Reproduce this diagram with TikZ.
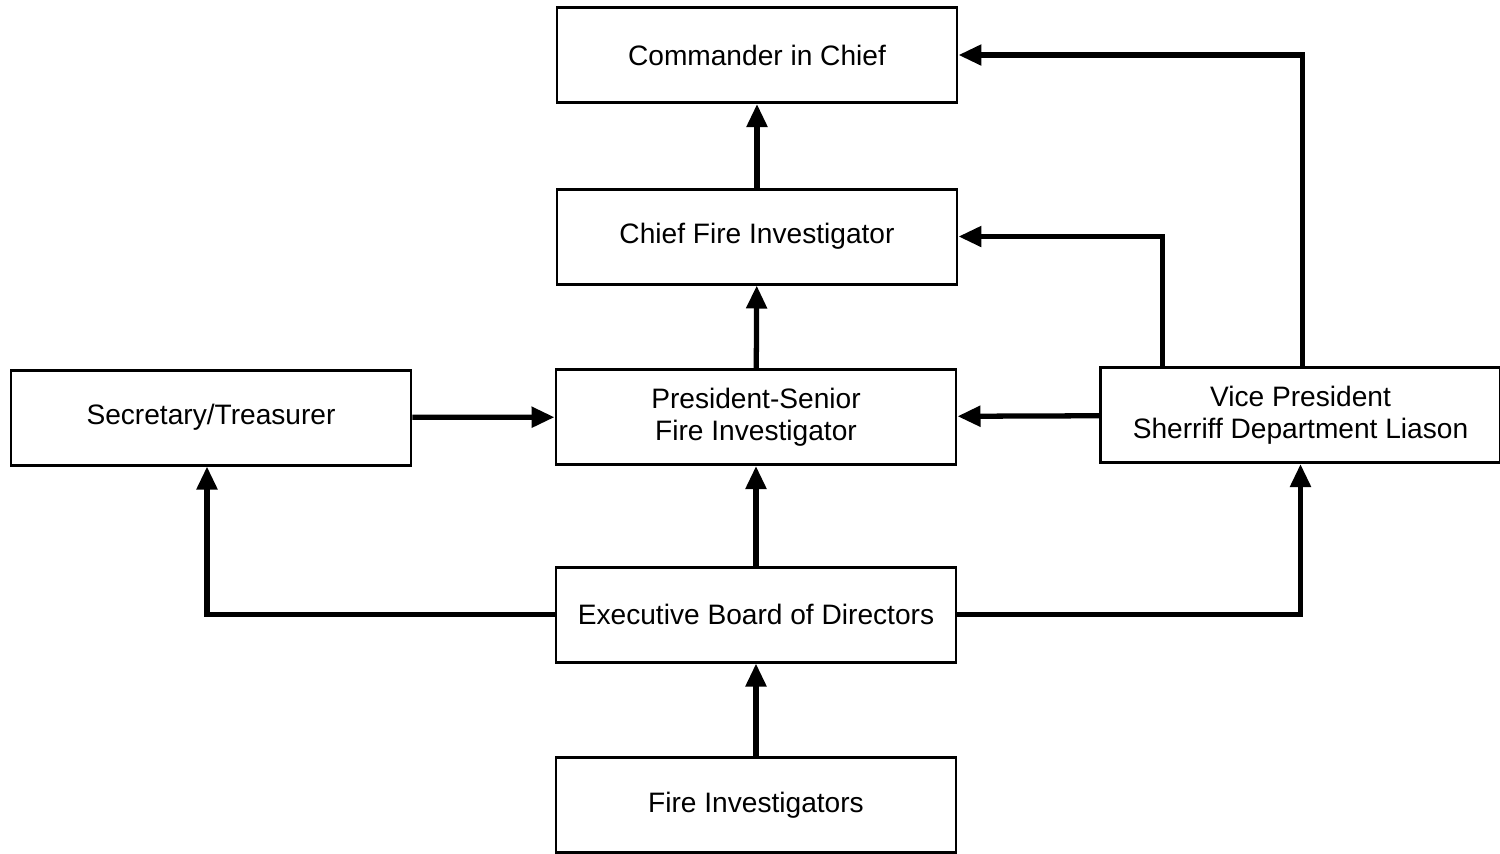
\documentclass[tikz,border=0pt]{standalone}
\usepackage{fontspec}
\setmainfont{Liberation Sans}
\usepackage{tikz}
\usetikzlibrary{arrows.meta, positioning, calc}

\begin{document}
\begin{tikzpicture}[
  font=\fontsize{8}{9.2}\selectfont,
  post/.style={
    rectangle, draw=black, line width=0.85pt, align=center,
    minimum width=4cm, minimum height=0.95cm, inner sep=2pt
  },
  link/.style={
    line width=1.5pt, -{Triangle[length=2.3mm, width=2mm]}
  }
]
  \useasboundingbox (0,0) rectangle (15,-8.53);
  \node[post] (cinc) at (7.57,-0.55) {Commander in Chief};
  \node[post] (chief) at (7.57,-2.365) {Chief Fire Investigator};
  \node[post] (pres) at (7.56,-4.17) {President-Senior\\Fire Investigator};
  \node[post] (sec) at (2.11,-4.175) {Secretary/Treasurer};
  \node[post] (vp) at (13.005,-4.15) {Vice President\\Sherriff Department Liason};
  \node[post] (board) at (7.56,-6.145) {Executive Board of Directors};
  \node[post] (fi) at (7.56,-8.05) {Fire Investigators};

  \draw[link] (fi) -- (board);
  \draw[link] (board) -- (pres);
  \draw[link] (pres) -- (chief);
  \draw[link] (chief) -- (cinc);
  \draw[link] (sec) -- (pres);
  \draw[link] (vp) -- (pres);
  \draw[link] ([xshift=-1.38cm]vp.north) |- (chief.east);
  \draw[link] ([xshift=0.02cm]vp.north) |- (cinc.east);
  \draw[link] (board.west) -| ([xshift=-0.04cm]sec.south);
  \draw[link] (board.east) -| (vp.south);
\end{tikzpicture}
\end{document}
